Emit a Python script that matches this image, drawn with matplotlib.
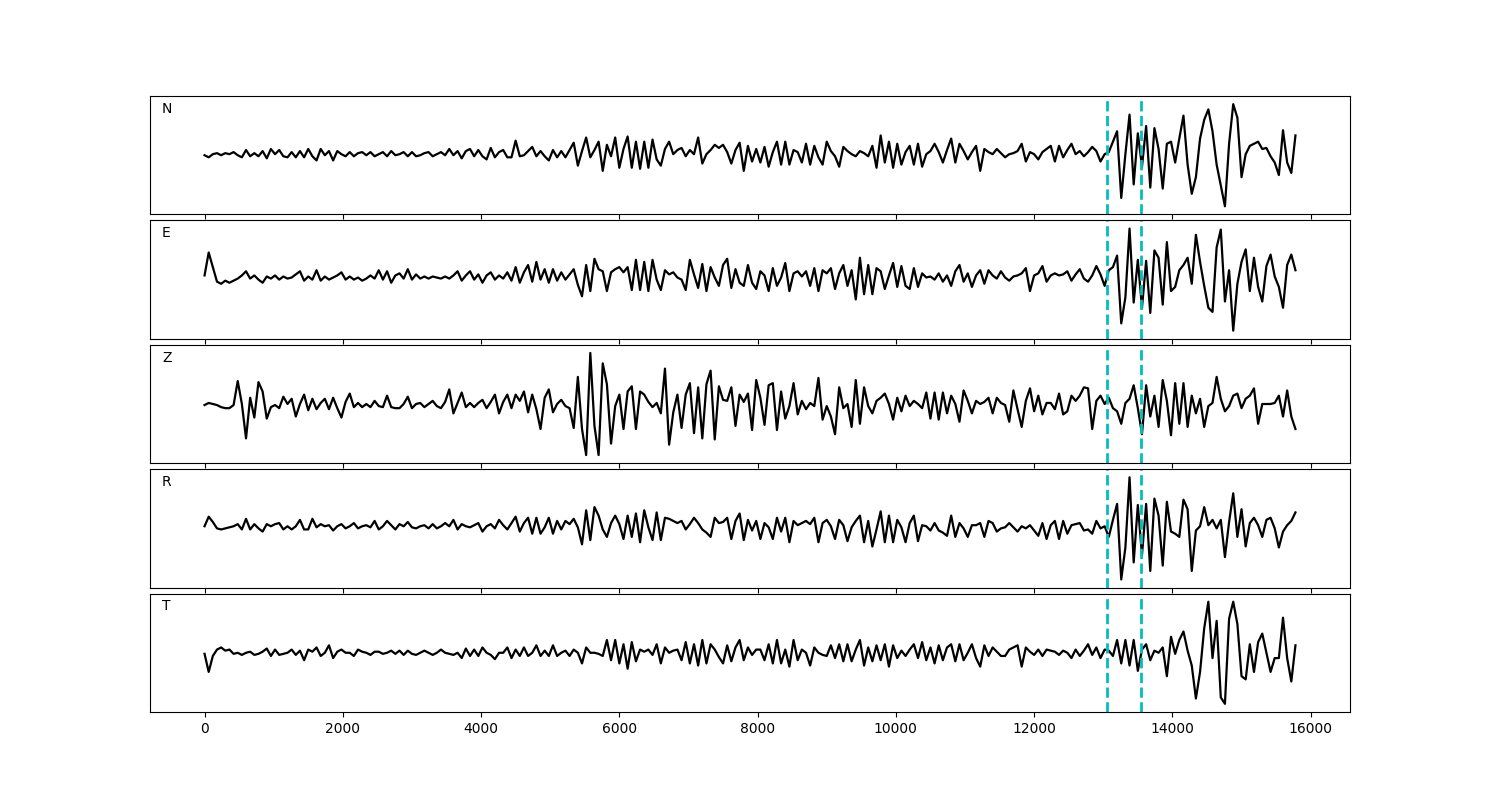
"""Five-component waveform panels (N, E, Z, R, T) with two picks marked."""

import matplotlib
matplotlib.use("Agg")
import matplotlib.pyplot as plt
import numpy as np

# sample spacing of the traces (samples start at 0)
DT = 60.0
PICKS = [13050, 13545]
COMPONENTS = ["N", "E", "Z", "R", "T"]

# amplitudes, one value per sample (arbitrary units)
trace_n = [
    -1, -3, 0, 1, -1, 1, 0, 2, -1, -3, 4, -2,
    1, -2, 3, -4, 5, 0, 4, -2, -3, 2, -3, 3,
    -3, 5, -2, -6, 5, -1, 3, -6, 3, 0, -2, 2,
    -2, 1, 2, -1, 2, -2, 0, 2, -2, 3, -1, 0,
    2, -2, 2, -2, -1, 1, 2, -2, 0, 2, -1, 5,
    -1, 3, -4, 3, 5, -2, 4, -2, -5, 6, -3, 2,
    4, -3, -3, 13, -2, -1, 3, 7, -2, 3, -2, -6,
    4, -3, 3, -3, 4, 11, -11, 3, 16, -3, 4, 12,
    -16, 9, -2, 16, -13, 5, 17, -13, 12, -14, 12, -13,
    14, -5, -11, 5, 12, 0, 4, 6, -2, 4, 0, 16,
    -9, 0, 4, 9, 6, 9, 2, -9, 4, 11, -16, 8,
    -7, 5, -8, 7, -12, 2, 12, -10, 12, -10, 4, 2,
    -8, 10, -10, 8, -3, -10, 12, 3, -2, -12, 7, 3,
    0, -2, 3, 1, -2, 8, -13, 18, -8, 12, -13, 10,
    -10, 2, 8, -10, 10, -12, 0, 3, 10, 2, -8, 4,
    15, -8, 10, 3, -5, 2, 8, -16, 5, 2, 0, 5,
    1, -3, 0, 1, 3, 10, -7, 2, 0, -5, 2, 5,
    8, -7, 8, -3, 4, 10, 0, 3, -2, 2, 7, 3,
    -7, 0, 2, 12, 22, -42, 0, 38, -29, 20, -12, 27,
    -32, 25, 5, -33, 10, 12, -8, 15, 37, -10, -38, -22,
    15, 33, 43, 22, -10, -30, -50, 10, 48, 35, -22, 0,
    8, 10, 12, 5, 6, -2, -8, -20, 23, -8, -18, 18,
]

trace_e = [
    2, 24, 10, -4, -6, -3, -5, -3, -1, 2, 6, -1,
    2, -2, -5, 1, -1, 2, -2, 1, -1, 0, 3, 6,
    -3, 1, -2, 7, -3, 1, -2, 0, 2, 5, -2, 1,
    -2, 0, -3, -1, 2, -1, 7, -2, 6, -5, 2, 4,
    -1, 8, -2, 3, -1, 1, -1, 1, 0, -1, 1, -1,
    2, 6, -3, 2, 6, -2, 3, -5, 2, 5, -2, 2,
    -1, 5, -3, 10, -5, 5, 12, -4, 15, -2, 8, -5,
    8, -3, 5, -2, 3, 8, -7, -18, 12, -13, 18, 8,
    6, -13, 5, 8, 10, 5, 10, -12, 17, -12, 15, -13,
    17, -2, -12, 7, 3, 5, 0, -2, -12, 17, 3, -10,
    13, -13, 10, 0, -8, 12, 18, -10, 8, -5, -8, 12,
    -5, -11, 6, 2, -13, 9, -8, 0, 14, -13, 4, 6,
    1, 6, -8, 9, -13, 7, 4, 9, -11, 4, 12, -8,
    7, -21, 19, -16, 12, -16, 9, 6, -11, 2, 14, -9,
    11, -8, -11, 9, -9, 4, 0, 1, -2, 4, -4, 2,
    -8, 6, 12, -4, 4, -9, 2, 7, -6, 7, 2, -1,
    6, 0, -3, 1, 2, 4, 9, -13, 2, 4, 11, -4,
    2, 4, 2, 3, 6, -3, 3, 8, -1, -4, 2, 11,
    3, -8, 7, 10, 21, -44, -19, 47, -24, 17, -29, 16,
    -34, 26, 19, -26, 34, -13, -9, 7, 12, 19, -6, 41,
    15, -8, -29, -33, 29, 46, -23, 7, -51, -6, 15, 27,
    -13, 19, -9, -23, 11, 22, 1, -9, -29, 12, 22, 7,
]

trace_z = [
    1, 3, 2, 1, -1, -2, -2, 1, 24, 2, -31, 8,
    -11, 23, 14, -12, -1, 1, -2, 9, 2, 7, -10, 2,
    11, -4, 7, -3, 3, 7, -3, 8, -2, -11, 4, 12,
    -1, 3, -1, 2, -1, 5, 0, -1, 10, -1, -2, -2,
    2, 9, -2, 2, 3, -1, 2, 5, 0, -2, 4, 16,
    -7, 3, 13, -1, 3, -1, 3, 6, -2, 4, 11, -7,
    4, 11, -2, 11, 5, 14, -6, 11, -3, -22, 8, 16,
    -6, 2, 6, 0, -2, -21, 28, -22, -47, 51, -19, -47,
    41, 21, -36, 0, 11, -22, 14, 19, -22, 14, 11, 4,
    -1, 3, -7, 36, -37, -6, 11, -21, 11, 22, -26, 18,
    -31, 21, 34, -32, 19, 6, 5, 18, -19, 11, 4, 12,
    -23, 25, 8, -18, 20, 22, -23, 14, -12, 0, 22, -8,
    5, -3, 3, 0, 27, -13, 0, -10, -27, 18, -2, 2,
    -20, 25, -17, 18, 0, -7, 5, 8, 12, 2, -13, 8,
    -5, 10, 0, 5, 2, -2, 13, -12, 13, -13, 13, -7,
    10, 2, -15, 15, 5, -7, 5, 2, 4, 8, -7, 8,
    3, 1, -15, 15, -3, -20, 5, 17, -5, 10, -8, 3,
    3, -3, 12, -8, -5, 10, 5, 10, 18, 17, -22, 5,
    10, 2, 8, -2, -5, -17, 3, 7, 20, -2, -27, 20,
    -10, 10, -20, 25, 5, -28, 22, -17, 22, -20, 10, -7,
    7, -20, 0, 3, 28, 7, -5, 0, 10, 12, -2, 7,
    10, 17, -17, 2, 2, 2, 3, 10, -10, 15, -10, -22,
]

trace_r = [
    1, 10, 5, -1, -2, -1, 0, 1, 3, -2, 8, -2,
    3, -1, -4, 3, 1, 3, 4, -2, 1, -2, 1, 7,
    -2, -2, 8, 0, 3, 1, 2, -3, 1, 3, -1, 1,
    4, -1, 1, 2, 0, 6, -2, 1, 6, 2, -2, 3,
    1, 5, 0, -1, 1, 2, -1, 3, -1, 1, 4, 1,
    7, -2, 3, 1, 0, 2, 4, -4, 1, 3, -1, 7,
    2, -2, 4, 10, -4, 4, 9, -6, 9, -6, 0, 9,
    -6, 6, -2, 6, 3, 8, 0, -16, 16, -12, 19, 11,
    -2, -9, 4, 11, 3, -11, 11, -9, 13, -14, 16, 0,
    -12, 14, -12, 9, 8, 6, 4, 6, -2, 3, 9, 4,
    -2, -5, -9, 9, 4, 5, 9, -11, 6, 13, -12, 7,
    -3, 6, -11, 4, 0, -11, 9, -4, 9, -14, 6, 2,
    4, 6, 3, 9, -14, 4, 7, 1, -11, 7, 2, -13,
    0, 6, 11, -14, 6, -18, -2, 15, -14, 11, -14, 7,
    0, -14, 4, 11, -13, 2, 1, -3, 4, -3, -5, -8,
    11, -9, 4, -1, -9, 2, 2, 4, -9, 6, 4, -4,
    -1, 0, 4, 0, -4, 1, -1, 2, -3, -8, 4, -11,
    2, 6, -11, 6, -6, 2, 3, 4, -3, -2, -6, 6,
    -1, 1, -9, 7, 22, -49, -19, 47, -33, 21, -26, 22,
    -41, 27, 11, -36, 24, -4, -6, -9, 26, 17, -41, -3,
    1, 19, 2, 7, -1, 7, -28, 5, 32, -9, 17, -18,
    4, 9, 2, -9, 7, 9, -1, -19, -4, 2, 6, 14,
]

trace_t = [
    0, -17, -2, 4, 6, 3, 4, 0, 1, -1, 1, 2,
    -1, 0, 2, 5, -2, 4, -1, 0, 1, 4, -1, 3,
    -6, 4, 2, 6, -2, 1, 8, -4, 2, 4, 1, 1,
    -2, 4, 2, 1, -1, 2, 2, 0, 1, 3, 0, 3,
    -1, 3, 0, -1, 1, 3, 1, -1, 1, 4, 1, 0,
    -1, 1, -4, 5, -2, 4, -2, 6, 1, -1, -5, 1,
    1, 6, -4, 4, -2, 6, -2, 1, 8, -2, 3, -2,
    8, -2, 1, 3, -2, 4, 1, -9, 6, 1, 1, 0,
    -2, 13, -6, 13, -9, 9, -14, 11, -7, 4, 2, 4,
    -1, 9, -9, 6, 1, 3, 4, -6, 11, -9, 9, -11,
    13, -9, 9, 4, -3, -9, 8, -7, 6, 13, -6, 6,
    -1, 4, 4, -6, 9, -9, 13, -9, 4, -12, 13, -6,
    4, 1, -11, 6, 1, -1, -2, 8, -4, 9, -7, 9,
    -7, 4, 13, -11, 6, -7, 8, -6, 9, -12, 8, -4,
    3, -2, 4, 9, -4, 11, -6, 6, -9, 8, -6, 6,
    9, -7, 9, -6, 1, 9, -4, -12, 8, -2, 6, 2,
    -2, -2, 4, 6, 8, -12, 6, 2, -1, 4, -2, 4,
    3, 2, -1, 3, 1, -4, 4, -2, 3, 9, -1, 6,
    -4, 4, 3, -2, 13, -9, 13, -11, 13, -16, 4, 9,
    -6, 3, 1, 6, -21, 16, 0, 13, 21, 3, -11, -42,
    -17, 24, 49, -4, 31, -41, -47, 33, 49, 28, -21, -24,
    9, -17, 11, 19, 1, -17, -4, -4, 34, -4, -26, 8,
]


def main() -> None:
    traces = [trace_n, trace_e, trace_z, trace_r, trace_t]

    fig, axes = plt.subplots(5, 1, figsize=(15, 8), sharex=True)
    fig.subplots_adjust(left=0.1, right=0.9, top=0.88, bottom=0.11, hspace=0.05)

    for ax, name, tr in zip(axes, COMPONENTS, traces):
        t = np.arange(len(tr)) * DT
        ax.plot(t, tr, color="black", linewidth=1.6, solid_joinstyle="round")
        for p in PICKS:
            ax.axvline(p, color="c", linestyle="--", linewidth=2)
        ax.text(0.01, 0.95, name, transform=ax.transAxes, fontsize=10,
                ha="left", va="top")
        ax.set_yticks([])
        ax.margins(x=0.05, y=0.08)

    fig.savefig("out.png", dpi=100, facecolor="white")
    plt.close(fig)


if __name__ == "__main__":
    main()
